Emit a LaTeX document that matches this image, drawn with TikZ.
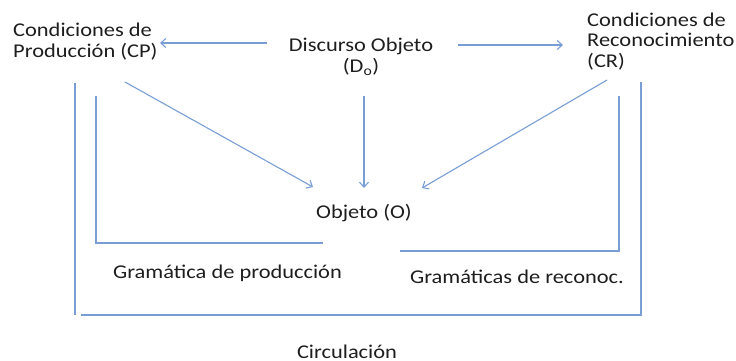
\documentclass[tikz,border=0pt]{standalone}
\usepackage{fontspec}
\setmainfont{Carlito}[FakeStretch=1.15]
\usetikzlibrary{arrows.meta}
\definecolor{lineblue}{RGB}{120,158,212}
\definecolor{txt}{RGB}{30,30,30}
\begin{document}
\begin{tikzpicture}[x=1pt,y=-1pt,
  lbl/.style={inner sep=0pt,text=txt,font=\fontsize{19.5}{20.5}\selectfont},
  conn/.style={draw=lineblue,line width=1.1pt},
  arr/.style={conn,-{Straight Barb[length=5pt,width=9pt,line width=1.1pt]}}]
\useasboundingbox (0,0) rectangle (736,360);
% texts (base anchor = baseline of the last line)
\node[lbl,anchor=base west,align=left] (cp) at (13,57) {Condiciones de\\Producción (CP)};
\node[lbl,anchor=base,align=center] (d) at (361,72) {Discurso Objeto\\(D\textsubscript{o})};
\node[lbl,anchor=base west,align=left] (cr) at (587,67) {Condiciones de\\Reconocimiento\\(CR)};
\node[lbl,anchor=base] (o) at (364,218) {Objeto (O)};
\node[lbl,anchor=base west] (gp) at (113,278) {Gramática de producción};
\node[lbl,anchor=base west] (gr) at (410,283) {Gramáticas de reconoc.};
\node[lbl,anchor=base] (circ) at (347,358) {Circulación};
% coordinates of connector ends
\coordinate (dL) at (267,43);
\coordinate (cpR) at (160,43);
\coordinate (dR) at (458,45);
\coordinate (crL) at (563,45);
\coordinate (cpD) at (125,82);
\coordinate (oL) at (313,187);
\coordinate (dD) at (364,96);
\coordinate (oT) at (364,188);
\coordinate (crD) at (607,80);
\coordinate (oR) at (422,188);
% arrows
\draw[arr] (dL) -- (cpR);
\draw[arr] (dR) -- (crL);
\draw[arr] (cpD) -- (oL);
\draw[arr] (dD) -- (oT);
\draw[arr] (crD) -- (oR);
% brackets
\coordinate (a1) at (75,83);
\coordinate (a2) at (75,315);
\coordinate (b1) at (81,315);
\coordinate (b2) at (641,315);
\coordinate (b3) at (641,82);
\draw[conn] (a1) -- (a2);
\draw[conn] (b1) -- (b2) -- (b3);
\coordinate (l1) at (96,96);
\coordinate (l2) at (96,243);
\coordinate (l3) at (323,243);
\draw[conn] (l1) -- (l2) -- (l3);
\coordinate (r1) at (400,251);
\coordinate (r2) at (619,251);
\coordinate (r3) at (619,96);
\draw[conn] (r1) -- (r2) -- (r3);
\end{tikzpicture}
\end{document}
